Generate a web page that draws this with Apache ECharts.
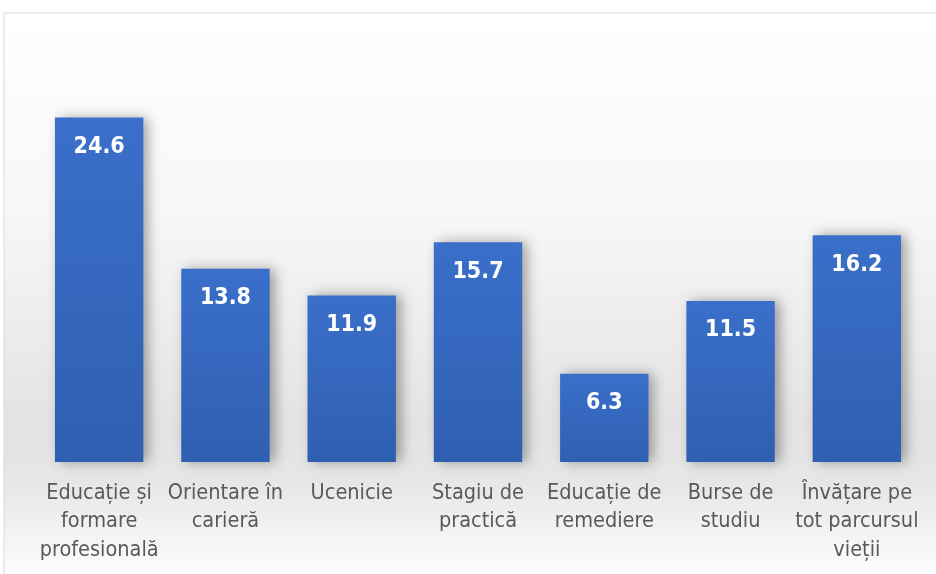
<!DOCTYPE html>
<html><head><meta charset="utf-8">
<script src="https://cdn.jsdelivr.net/npm/echarts@6/dist/echarts.min.js"></script>
<style>html,body{margin:0;padding:0;background:#fff}#c{width:936px;height:574px}</style>
</head><body><div id="c"></div>
<script>
const categories = ['Educație și\nformare\nprofesională', 'Orientare în\ncarieră', 'Ucenicie', 'Stagiu de\npractică', 'Educație de\nremediere', 'Burse de\nstudiu', 'Învățare pe\ntot parcursul\nvieții'];
const values = [24.6, 13.8, 11.9, 15.7, 6.3, 11.5, 16.2];

const chart = echarts.init(document.getElementById('c'));
chart.setOption({
  backgroundColor: '#ffffff',
  animation: false,
  graphic: [{
    type: 'rect', z: -10, silent: true,
    shape: {x: 4, y: 13, width: 940, height: 570},
    style: {
      fill: {type: 'linear', x: 0, y: 0, x2: 0, y2: 1, colorStops: [
        {offset: 0, color: '#ffffff'},
        {offset: 0.35, color: '#f7f7f7'},
        {offset: 0.72, color: '#e3e3e3'},
        {offset: 0.82, color: '#e6e6e6'},
        {offset: 1, color: '#ffffff'}
      ]},
      stroke: '#d9d9d9', lineWidth: 1
    }
  }],
  grid: {left: 36, right: 16, top: 42, bottom: 112, containLabel: false},
  xAxis: {
    type: 'category', data: categories,
    axisLine: {show: false}, axisTick: {show: false},
    axisLabel: {color: '#595959', fontSize: 21.5, lineHeight: 28.5, margin: 17, interval: 0,
      fontFamily: '"DejaVu Sans Condensed", "Liberation Sans Narrow", sans-serif'}
  },
  yAxis: {type: 'value', min: 0, max: 30, show: false, splitLine: {show: false}},
  series: [{
    type: 'bar', data: values, barWidth: '70%',
    itemStyle: {
      color: {type: 'linear', x: 0, y: 0, x2: 0, y2: 1, colorStops: [
        {offset: 0, color: '#3a6fca'}, {offset: 1, color: '#2f5fb0'}]},
      shadowColor: 'rgba(0,0,0,0.35)', shadowBlur: 12, shadowOffsetX: 5, shadowOffsetY: 0
    },
    label: {show: true, position: 'insideTop', distance: 18, color: '#ffffff', fontWeight: 'bold',
      fontSize: 23, fontFamily: '"DejaVu Sans Condensed", sans-serif', formatter: p => p.value.toFixed(1)}
  }]
});
</script></body></html>
